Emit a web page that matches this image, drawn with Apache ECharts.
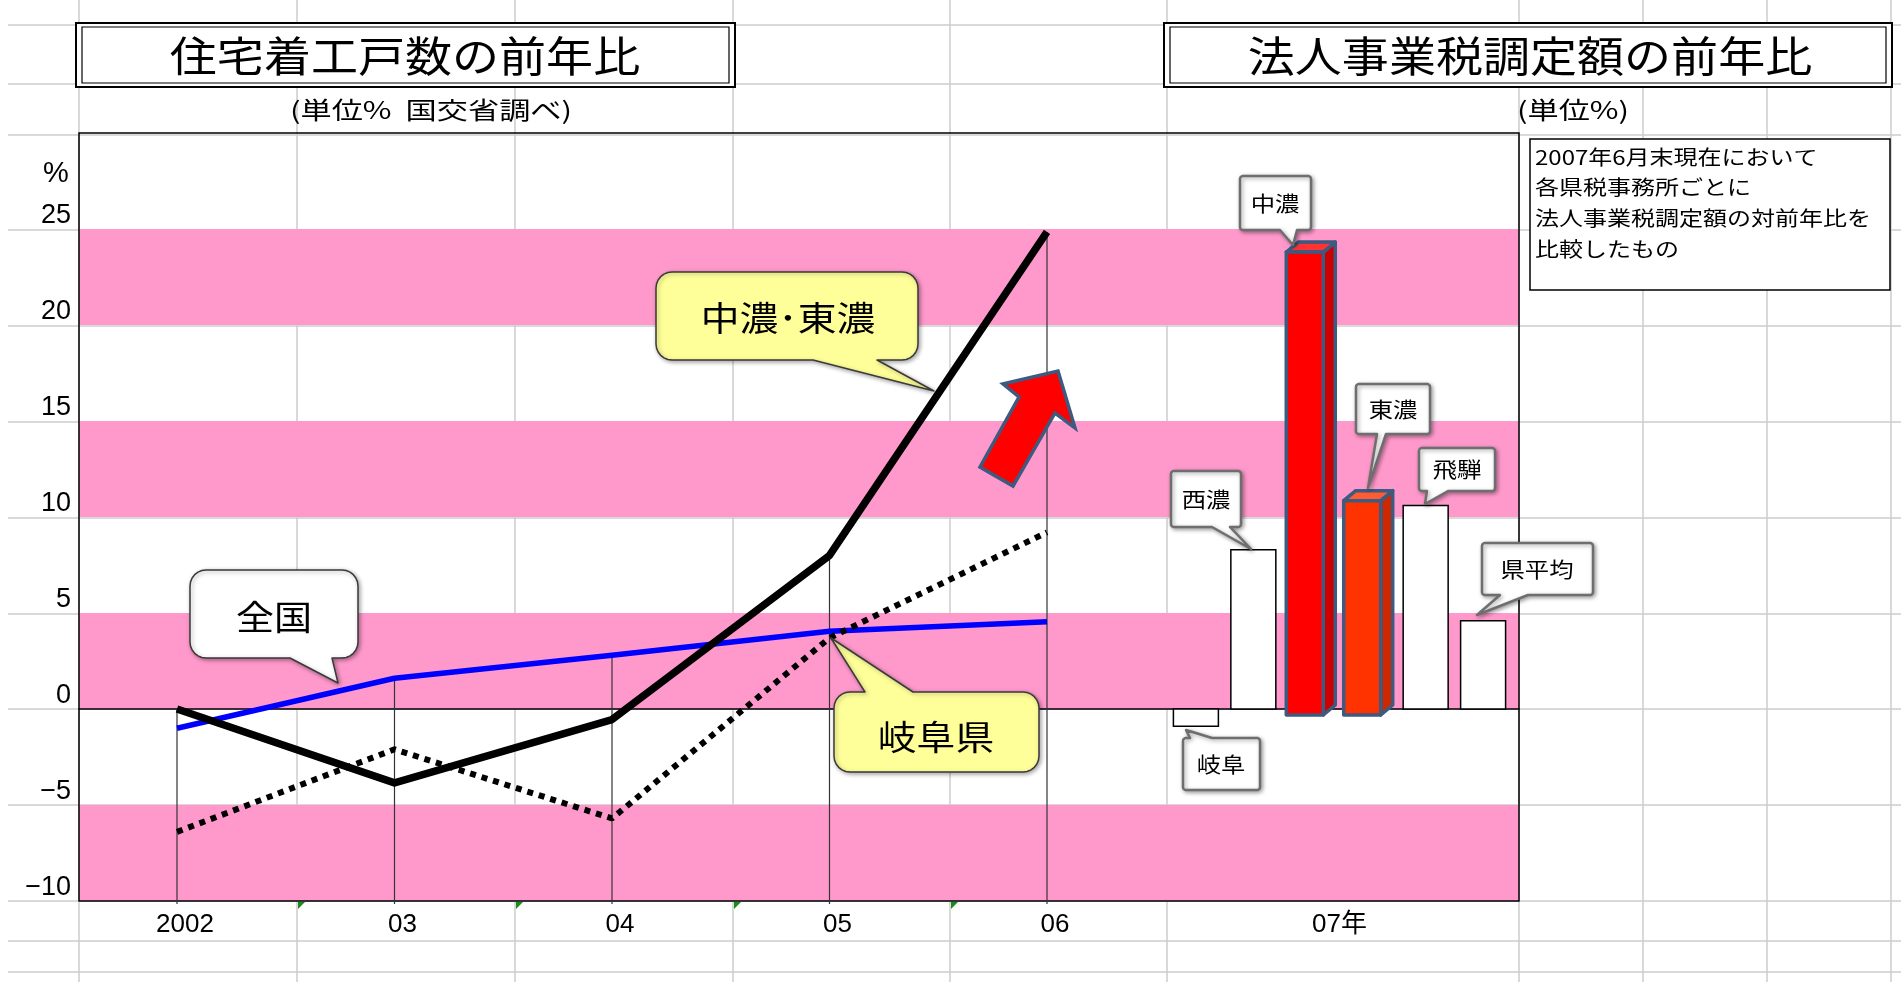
<!DOCTYPE html>
<html><head><meta charset="utf-8">
<script src="https://cdn.jsdelivr.net/npm/echarts@6/dist/echarts.min.js"></script>
<style>html,body{margin:0;padding:0;background:#fff}#c{width:1901px;height:982px}</style>
</head><body><div id="c"></div>
<script>
// ---------- data ----------
const years = ['2002', '03', '04', '05', '06'];
const zenkoku = [-1.0, 1.6, 2.8, 4.05, 4.55];          // 全国
const gifuPref = [-6.4, -2.1, -5.7, 3.7, 9.2];         // 岐阜県
const chunoTono = [0.0, -3.85, -0.55, 8.0, 24.85];     // 中濃・東濃
const taxCategory = ['07年'];
const regions = ['岐阜', '西濃', '中濃', '東濃', '飛騨', '県平均'];
const taxChange = [-0.9, 8.3, 23.8, 10.85, 10.6, 4.6]; // 法人事業税調定額の前年比
const yMin = -10, yMax = 30, yStep = 5;

// ---------- layout / style ----------
const W = 1901, H = 982;
const PL = 79, PR = 1519, PT = 133, PB = 901;
const LINE_L = 177, LINE_R = 1047;
const BAR_L = 1160;
const PINK = '#FF99CC';
const CJK = '"Noto Sans CJK JP", sans-serif';
const LAT = '"Liberation Sans", Arial, sans-serif';
const SHEET = '#CCCCCC';
const CUBE_EDGE = '#3D5A80';
const cubeStyle = {
  '中濃': { front: '#FF0000', side: '#CC0000', top: '#FF3333' },
  '東濃': { front: '#FF3300', side: '#CC2900', top: '#FF5C33' }
};

const g = [];
// spreadsheet grid
const sheetCols = [79, 297, 515, 733, 950, 1167, 1519, 1643, 1767, 1891];
const sheetRows = [25, 84, 135, 230, 326, 422, 518, 614, 709, 805, 901, 941, 972];
sheetCols.forEach(x => g.push({ type: 'line', z: -5, silent: true, shape: { x1: x, y1: 0, x2: x, y2: H }, style: { stroke: SHEET, lineWidth: 1.5 } }));
sheetRows.forEach(y => g.push({ type: 'line', z: -5, silent: true, shape: { x1: 8, y1: y, x2: W, y2: y }, style: { stroke: SHEET, lineWidth: 1.5 } }));
// green indicators
[297, 515, 733, 950].forEach(x => g.push({ type: 'polygon', z: 2, shape: { points: [[x + 1, 902], [x + 8, 902], [x + 1, 909]] }, style: { fill: '#1A8C1A' } }));

// plot border
g.push({ type: 'rect', z: 1, shape: { x: PL, y: PT, width: PR - PL, height: PB - PT }, style: { fill: null, stroke: '#000', lineWidth: 1.5 } });

// title boxes
function titleBox(x1, y1, x2, y2, text, cx) {
  g.push({ type: 'rect', z: 2, shape: { x: x1, y: y1, width: x2 - x1, height: y2 - y1 }, style: { fill: '#fff', stroke: '#000', lineWidth: 2 } });
  g.push({ type: 'rect', z: 3, shape: { x: x1 + 6, y: y1 + 4, width: x2 - x1 - 12, height: y2 - y1 - 8 }, style: { fill: null, stroke: '#000', lineWidth: 1.2 } });
  g.push({ type: 'text', z: 4, x: cx, y: (y1 + y2) / 2 + 1, scaleX: 1.12, style: { text: text, fontSize: 42, fontFamily: CJK, fill: '#000', align: 'center', verticalAlign: 'middle' } });
}
titleBox(76, 23, 735, 87, '住宅着工戸数の前年比', 405);
titleBox(1164, 23, 1892, 87, '法人事業税調定額の前年比', 1530);

function txt(x, y, s, size, sx, align, font, z) {
  g.push({ type: 'text', z: z || 4, x: x, y: y, scaleX: sx, style: { text: s, fontSize: size, fontFamily: font || CJK, fill: '#000', align: align || 'center', verticalAlign: 'middle' } });
}
txt(431, 110, '(単位%  国交省調べ)', 24, 1.3);
txt(1573, 110, '(単位%)', 24, 1.3);
txt(56, 174, '%', 29, 1, 'center', LAT);

// note box
g.push({ type: 'rect', z: 2, shape: { x: 1530, y: 139, width: 360, height: 151 }, style: { fill: '#fff', stroke: '#000', lineWidth: 1.5 } });
['2007年6月末現在において', '各県税事務所ごとに', '法人事業税調定額の対前年比を', '比較したもの'].forEach((s, i) => {
  txt(1535, 157 + i * 30.7, s, 20, 1.2, 'left');
});

// callouts
function calloutPts(x1, y1, x2, y2, r, side, b1, b2, tip) {
  const pts = [];
  const arc = (cx, cy, a0, a1) => { for (let k = 0; k <= 6; k++) { const a = (a0 + (a1 - a0) * k / 6) * Math.PI / 180; pts.push([cx + r * Math.cos(a), cy + r * Math.sin(a)]); } };
  arc(x1 + r, y1 + r, 180, 270);
  if (side === 'top') pts.push([b1, y1], tip, [b2, y1]);
  arc(x2 - r, y1 + r, 270, 360);
  arc(x2 - r, y2 - r, 0, 90);
  if (side === 'bottom') pts.push([b2, y2], tip, [b1, y2]);
  arc(x1 + r, y2 - r, 90, 180);
  return pts;
}
function callout(box, side, b1, b2, tip, fill, stroke, lw, text, tx, ty, size, sx) {
  g.push({ type: 'polygon', z: 20, shape: { points: calloutPts(box[0], box[1], box[2], box[3], box[4], side, b1, b2, tip) },
    style: { fill: fill, stroke: stroke, lineWidth: lw, lineJoin: 'round', shadowBlur: 4, shadowColor: 'rgba(0,0,0,0.35)', shadowOffsetX: 1.5, shadowOffsetY: 1.5 } });
  txt(tx, ty, text, size, sx, 'center', CJK, 21);
}
const YEL = '#FFFF99';
callout([656, 272, 918, 360, 16], 'bottom', 813, 877, [934, 391], YEL, '#3A3A3A', 1.5, '中濃･東濃', 788, 318, 34, 1.14);
callout([190, 570, 358, 658, 16], 'bottom', 290, 332, [338, 683], '#fff', '#3A3A3A', 1.5, '全国', 274, 617, 34, 1.12);
callout([834, 692, 1039, 772, 16], 'top', 865, 913, [831, 638], YEL, '#3A3A3A', 1.5, '岐阜県', 936, 737, 34, 1.14);
const BC = '#6E6E6E';
callout([1240, 176, 1311, 230, 3], 'bottom', 1280, 1297, [1293, 245], '#fff', BC, 2.5, '中濃', 1275, 203, 21, 1.16);
callout([1171, 471, 1241, 527, 3], 'bottom', 1212, 1230, [1251, 549], '#fff', BC, 2.5, '西濃', 1206, 499, 21, 1.16);
callout([1356, 384, 1430, 434, 3], 'bottom', 1377, 1386, [1368, 488], '#fff', BC, 2.5, '東濃', 1393, 409, 21, 1.16);
callout([1419, 448, 1495, 491, 3], 'bottom', 1427, 1448, [1425, 504], '#fff', BC, 2.5, '飛騨', 1457, 469, 21, 1.16);
callout([1482, 543, 1593, 595, 3], 'bottom', 1500, 1528, [1477, 615], '#fff', BC, 2.5, '県平均', 1537, 569, 21, 1.16);
callout([1183, 738, 1260, 790, 3], 'top', 1190, 1212, [1186, 730], '#fff', BC, 2.5, '岐阜', 1221, 764, 21, 1.16);

// arrow
g.push({ type: 'polygon', z: 20, shape: { points: [[1058, 371], [1075, 428], [1055, 413], [1013, 486], [980, 467], [1019, 397], [1003, 384]] },
  style: { fill: '#FF0000', stroke: CUBE_EDGE, lineWidth: 3.5, lineJoin: 'miter' } });

const hiddenY = (i) => ({ type: 'value', gridIndex: i, min: yMin, max: yMax, interval: yStep, show: false });

const option = {
  animation: false,
  backgroundColor: '#fff',
  grid: [
    { left: PL, right: W - PR, top: PT, bottom: H - PB, outerBoundsMode: 'none' },
    { left: LINE_L, right: W - LINE_R, top: PT, bottom: H - PB, outerBoundsMode: 'none' },
    { left: BAR_L, right: W - PR, top: PT, bottom: H - PB, outerBoundsMode: 'none' }
  ],
  xAxis: [
    { type: 'value', gridIndex: 0, min: 0, max: 1, axisLine: { show: true, onZero: true, lineStyle: { color: '#000', width: 1.5 } }, axisTick: { show: false }, axisLabel: { show: false }, splitLine: { show: false } },
    { type: 'category', gridIndex: 1, data: years, boundaryGap: false, axisLine: { show: false, onZero: false }, axisTick: { show: false }, splitLine: { show: false },
      axisLabel: { color: '#000', fontSize: 26, fontFamily: LAT, margin: 11, padding: [0, 0, 0, 16], interval: 0 } },
    { type: 'category', gridIndex: 2, data: taxCategory, axisLine: { show: false, onZero: false }, axisTick: { show: false }, splitLine: { show: false },
      axisLabel: { color: '#000', fontSize: 26, fontFamily: '"Liberation Sans", "Noto Sans CJK JP", sans-serif', margin: 11 } }
  ],
  yAxis: [
    { type: 'value', gridIndex: 0, min: yMin, max: yMax, interval: yStep,
      axisLine: { show: false }, axisTick: { show: false }, splitLine: { show: false },
      splitArea: { show: true, areaStyle: { color: [PINK, 'rgba(255,255,255,0)'] } },
      axisLabel: { color: '#000', fontSize: 27, fontFamily: LAT, align: 'right', verticalAlign: 'bottom', margin: 8, showMinLabel: true, showMaxLabel: true,
        formatter: v => (v === yMax ? '' : String(v).replace('-', '\u2212')) } },
    hiddenY(1), hiddenY(2)
  ],
  graphic: { elements: g },
  series: [
    { type: 'custom', name: 'drop', xAxisIndex: 1, yAxisIndex: 1, z: 1, silent: true,
      data: years.map((_, i) => [i, Math.max(zenkoku[i], gifuPref[i], chunoTono[i])]),
      encode: { x: 0, y: 1 },
      renderItem: (params, api) => {
        const p1 = api.coord([api.value(0), api.value(1)]);
        const p2 = api.coord([api.value(0), yMin]);
        return { type: 'line', shape: { x1: p1[0], y1: p1[1], x2: p2[0], y2: p2[1] + 3 }, style: { stroke: '#333', lineWidth: 1.2 } };
      } },
    { type: 'line', name: '全国', xAxisIndex: 1, yAxisIndex: 1, data: zenkoku, symbol: 'none', z: 3,
      lineStyle: { color: '#0000FF', width: 5.5, join: 'round' } },
    { type: 'line', name: '岐阜県', xAxisIndex: 1, yAxisIndex: 1, data: gifuPref, symbol: 'none', z: 3,
      lineStyle: { color: '#000', width: 6, type: [6, 6] } },
    { type: 'line', name: '中濃・東濃', xAxisIndex: 1, yAxisIndex: 1, data: chunoTono, symbol: 'none', z: 3,
      lineStyle: { color: '#000', width: 7.5, join: 'round' } },
    { type: 'custom', name: '法人事業税', xAxisIndex: 2, yAxisIndex: 2, z: 4, silent: true,
      data: regions.map((r, i) => [0, taxChange[i], i]),
      encode: { x: 0, y: 1 },
      renderItem: (params, api) => {
        const idx = api.value(2), v = api.value(1);
        const base = api.coord([0, 0]);
        const top = api.coord([0, v]);
        const band = api.size([1, 0])[0];
        const pitch = band * 0.16, bw = band * 0.1253;
        const xc = base[0] + (idx - (regions.length - 1) / 2) * pitch;
        const cs = cubeStyle[regions[idx]];
        if (!cs) {
          return { type: 'rect', shape: { x: xc - bw / 2, y: Math.min(top[1], base[1]), width: bw, height: Math.abs(base[1] - top[1]) },
            style: { fill: '#fff', stroke: '#000', lineWidth: 1.5 } };
        }
        const d = 12, dy = 10;
        const fl = xc - bw / 2 - 2, fr = xc + bw / 2 - 10;
        const ft = top[1], fb = base[1] + 6;
        const st = (f) => ({ fill: f, stroke: CUBE_EDGE, lineWidth: 3.5, lineJoin: 'round' });
        return { type: 'group', children: [
          { type: 'polygon', shape: { points: [[fr, ft], [fr + d, ft - dy], [fr + d, fb - dy], [fr, fb]] }, style: st(cs.side) },
          { type: 'polygon', shape: { points: [[fl, ft], [fl + d, ft - dy], [fr + d, ft - dy], [fr, ft]] }, style: st(cs.top) },
          { type: 'rect', shape: { x: fl, y: ft, width: fr - fl, height: fb - ft }, style: st(cs.front) }
        ] };
      } }
  ]
};
const chart = echarts.init(document.getElementById('c'), null, { renderer: 'canvas', width: W, height: H });
chart.setOption(option);
</script>
</body></html>
